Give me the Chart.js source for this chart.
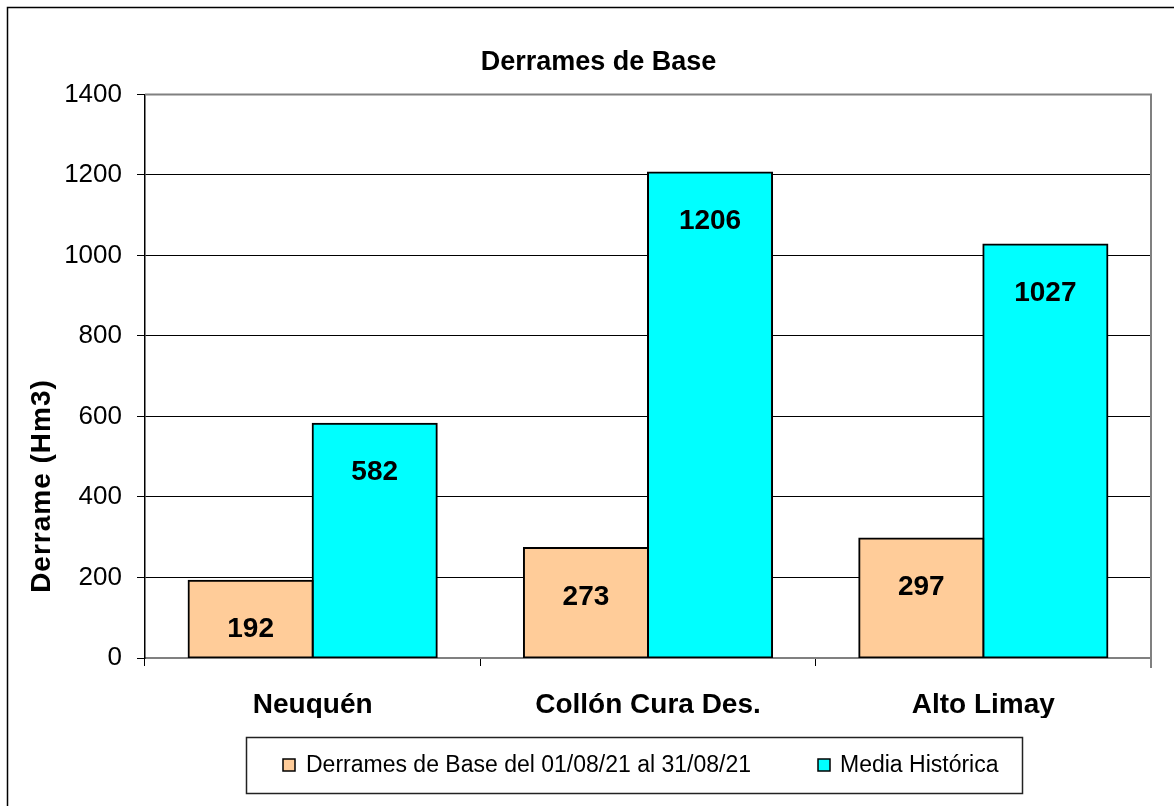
<!DOCTYPE html>
<html>
<head>
<meta charset="utf-8">
<script src="https://cdn.jsdelivr.net/npm/chart.js@4/dist/chart.umd.min.js"></script>
<style>
html,body{margin:0;padding:0;background:#fff;}
#wrap{width:1174px;height:806px;}
canvas{display:block;}
</style>
</head>
<body>
<div id="wrap"><canvas id="c" width="1174" height="806"></canvas></div>
<script>
// ---- data ----
const categories = ['Neuquén', 'Collón Cura Des.', 'Alto Limay'];
const seriesNames = ['Derrames de Base del 01/08/21 al 31/08/21', 'Media Histórica'];
const derramesBase = [192, 273, 297];
const mediaHistorica = [582, 1206, 1027];
const yTicks = [0, 200, 400, 600, 800, 1000, 1200, 1400];
const chartTitle = 'Derrames de Base';
const yAxisTitle = 'Derrame (Hm3)';

const FONT = '"Liberation Sans", Arial, Helvetica, sans-serif';
const colors = ['#FFCC99', '#00FFFF'];

const framePlugin = {
  id: 'frame',
  beforeDraw(chart) {
    const ctx = chart.ctx;
    ctx.save();
    ctx.fillStyle = '#fff';
    ctx.fillRect(0, 0, chart.width, chart.height);
    ctx.strokeStyle = '#000';
    ctx.lineWidth = 1.5;
    ctx.strokeRect(7.5, 7.5, chart.width + 20, chart.height + 20);
    ctx.restore();
  },
  beforeDatasetsDraw(chart) {
    const a = chart.chartArea, ctx = chart.ctx;
    ctx.save();
    ctx.strokeStyle = '#808080';
    ctx.lineWidth = 2;
    ctx.beginPath();
    ctx.moveTo(a.left, a.top);
    ctx.lineTo(a.right, a.top);
    ctx.lineTo(a.right, a.bottom + 10);
    ctx.stroke();
    ctx.restore();
  },
  afterDatasetsDraw(chart) {
    const ctx = chart.ctx;
    ctx.save();
    ctx.font = 'bold 28px ' + FONT;
    ctx.fillStyle = '#000';
    ctx.textAlign = 'center';
    ctx.textBaseline = 'middle';
    chart.data.datasets.forEach((ds, di) => {
      const meta = chart.getDatasetMeta(di);
      meta.data.forEach((bar, i) => {
        ctx.fillText(String(ds.data[i]), bar.x, bar.y + 49);
      });
    });
    ctx.restore();
  },
  afterDraw(chart) {
    const ctx = chart.ctx;
    // y axis title
    ctx.save();
    ctx.translate(42, 486);
    ctx.rotate(-Math.PI / 2);
    ctx.font = 'bold 28px ' + FONT;
    try { ctx.letterSpacing = '1px'; } catch (e) {}
    ctx.fillStyle = '#000';
    ctx.textAlign = 'center';
    ctx.textBaseline = 'middle';
    ctx.fillText(yAxisTitle, 0, 0);
    ctx.restore();

    // legend
    ctx.save();
    ctx.strokeStyle = '#222';
    ctx.lineWidth = 1.5;
    ctx.strokeRect(246.5, 737.5, 776, 56);
    const items = [
      { sx: 283, tx: 306 },
      { sx: 818, tx: 840 }
    ];
    chart.data.datasets.forEach((ds, i) => {
      const it = items[i];
      ctx.fillStyle = ds.backgroundColor;
      ctx.fillRect(it.sx, 759, 12, 12);
      ctx.strokeStyle = '#000';
      ctx.lineWidth = 1.5;
      ctx.strokeRect(it.sx, 759, 12, 12);
      ctx.fillStyle = '#000';
      ctx.font = '23px ' + FONT;
      ctx.textAlign = 'left';
      ctx.textBaseline = 'middle';
      ctx.fillText(ds.label, it.tx, 766);
    });
    ctx.restore();
  }
};

new Chart(document.getElementById('c'), {
  type: 'bar',
  data: {
    labels: categories,
    datasets: [
      { label: seriesNames[0], data: derramesBase, backgroundColor: colors[0], borderColor: '#000', borderWidth: 2, borderSkipped: false, inflateAmount: 1 },
      { label: seriesNames[1], data: mediaHistorica, backgroundColor: colors[1], borderColor: '#000', borderWidth: 2, borderSkipped: false, inflateAmount: 1 }
    ]
  },
  options: {
    responsive: false,
    animation: false,
    devicePixelRatio: 1,
    layout: { padding: { left: 46, right: 23, top: 0, bottom: 88 } },
    datasets: { bar: { categoryPercentage: 0.74, barPercentage: 1.0 } },
    plugins: {
      legend: { display: false },
      tooltip: { enabled: false },
      title: {
        display: true,
        text: chartTitle,
        color: '#000',
        font: { family: FONT, size: 27, weight: 'bold' },
        padding: { top: 46, bottom: 16 }
      }
    },
    scales: {
      x: {
        offset: true,
        grid: { display: true, drawOnChartArea: false, drawTicks: true, tickLength: 8, color: '#000', lineWidth: 1, offset: true },
        border: { display: true, color: '#808080', width: 2 },
        ticks: { color: '#000', font: { family: FONT, size: 28, weight: 'bold' }, padding: 22, maxRotation: 0, autoSkip: false },
        afterFit(s) { s.height = 60; }
      },
      y: {
        min: 0, max: 1400,
        afterBuildTicks(s) { s.ticks = yTicks.map(v => ({ value: v })); },
        grid: { color: '#000', lineWidth: 1, drawTicks: true, tickLength: 8 },
        border: { display: true, color: '#000', width: 1.5 },
        ticks: { color: '#000', font: { family: FONT, size: 26 }, padding: 15, callback: v => String(v) },
        afterFit(s) { s.width = 99; }
      }
    }
  },
  plugins: [framePlugin]
});
</script>
</body>
</html>
